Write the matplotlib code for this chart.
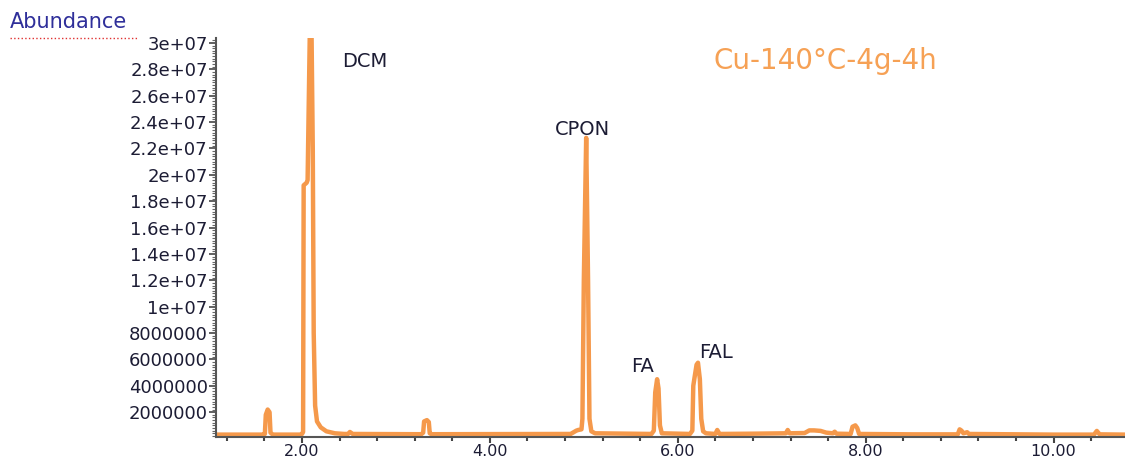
import matplotlib.pyplot as plt
from matplotlib.ticker import FixedLocator, MultipleLocator

# Retention time (min) and abundance (x1e6) of the total ion chromatogram
rt_min = [
    1.08, 1.58, 1.605, 1.615, 1.635, 1.655, 1.665, 1.69,
    1.98, 2.0, 2.012, 2.018, 2.05, 2.06, 2.085, 2.1, 2.115, 2.125, 2.14, 2.16,
    2.2, 2.26, 2.35, 2.45, 2.49, 2.51, 2.54,
    3.27, 3.29, 3.3, 3.33, 3.35, 3.36, 3.38,
    4.86, 4.92, 4.94, 4.975, 4.985, 5.0, 5.025, 5.045, 5.06, 5.08, 5.12,
    5.72, 5.745, 5.76, 5.78, 5.795, 5.81, 5.83,
    6.13, 6.155, 6.165, 6.18, 6.2, 6.215, 6.235, 6.25, 6.27, 6.3,
    6.4, 6.42, 6.445, 6.8,
    7.15, 7.17, 7.19, 7.35, 7.4, 7.45, 7.52, 7.58,
    7.65, 7.67, 7.69, 7.84, 7.86, 7.89, 7.91, 7.93,
    8.5, 8.98, 9.0, 9.02, 9.04, 9.08, 9.1,
    10.0, 10.43, 10.46, 10.49, 10.75,
]
abundance_m = [
    0.3, 0.3, 0.35, 1.8, 2.2, 2.0, 0.45, 0.3,
    0.3, 0.35, 0.5, 19.2, 19.4, 19.6, 31.5, 32.0, 22.0, 8.0, 2.5, 1.3,
    0.85, 0.55, 0.4, 0.35, 0.35, 0.5, 0.35,
    0.33, 0.45, 1.3, 1.4, 1.25, 0.4, 0.33,
    0.35, 0.6, 0.65, 0.7, 1.5, 12.0, 22.8, 12.0, 1.5, 0.55, 0.4,
    0.35, 0.6, 3.5, 4.5, 3.8, 1.0, 0.4,
    0.35, 0.6, 4.0, 4.7, 5.6, 5.75, 4.5, 1.5, 0.55, 0.4,
    0.35, 0.65, 0.35, 0.37,
    0.4, 0.65, 0.4, 0.42, 0.62, 0.62, 0.58, 0.45,
    0.4, 0.52, 0.37, 0.35, 0.9, 1.0, 0.8, 0.35,
    0.32, 0.32, 0.7, 0.6, 0.4, 0.48, 0.35,
    0.3, 0.3, 0.58, 0.32, 0.3,
]

peak_names = ["DCM", "CPON", "FA", "FAL"]
label_rt = [2.67, 4.99, 5.63, 6.41]
label_abund_m = [28.6, 23.4, 5.45, 6.5]

ytick_vals = [2e6, 4e6, 6e6, 8e6, 1e7, 1.2e7, 1.4e7, 1.6e7, 1.8e7, 2e7,
              2.2e7, 2.4e7, 2.6e7, 2.8e7, 3e7]
ytick_labels = ["2000000", "4000000", "6000000", "8000000", "1e+07",
                "1.2e+07", "1.4e+07", "1.6e+07", "1.8e+07", "2e+07",
                "2.2e+07", "2.4e+07", "2.6e+07", "2.8e+07", "3e+07"]
xtick_vals = [2, 4, 6, 8, 10]
xtick_labels = ["2.00", "4.00", "6.00", "8.00", "10.00"]

trace_color = "#f5994b"
text_color = "#1c1c34"

plt.rcParams["font.family"] = ["DejaVu Sans"]

fig = plt.figure(figsize=(11.25, 4.62), dpi=100)
ax = fig.add_axes([0.192, 0.055, 0.808, 0.863])

ax.plot(rt_min, [a * 1e6 for a in abundance_m], color=trace_color,
        linewidth=3.2, solid_joinstyle="round")

ax.set_xlim(1.085, 10.76)
ax.set_ylim(0.15e6, 3.038e7)

ax.yaxis.set_major_locator(FixedLocator(ytick_vals))
ax.set_yticklabels(ytick_labels)
ax.yaxis.set_minor_locator(MultipleLocator(2e5))
ax.xaxis.set_major_locator(FixedLocator(xtick_vals))
ax.set_xticklabels(xtick_labels)
ax.xaxis.set_minor_locator(MultipleLocator(0.4))

ax.tick_params(axis="y", which="major", length=5, width=1.2, color="#444444",
               labelsize=13, labelcolor=text_color, pad=1)
ax.tick_params(axis="y", which="minor", length=3, width=0.8, color="#666666")
ax.tick_params(axis="x", which="major", length=4, width=1.5, color="#444444",
               labelsize=11.5, labelcolor=text_color, pad=1)
ax.tick_params(axis="x", which="minor", length=3, width=1.5, color="#444444")

for side in ("top", "right"):
    ax.spines[side].set_visible(False)
for side in ("left", "bottom"):
    ax.spines[side].set_color("#555555")
    ax.spines[side].set_linewidth(1.5)

for name, rt, ab in zip(peak_names, label_rt, label_abund_m):
    ax.text(rt, ab * 1e6, name, ha="center", va="center", fontsize=14,
            color=text_color)

fig.text(0.734, 0.868, "Cu-140°C-4g-4h", ha="center", va="center",
         fontsize=20, color="#f6a155")

fig.text(0.009, 0.953, "Abundance", ha="left", va="center", fontsize=15,
         color="#2f2f9a")
fig.add_artist(plt.Line2D([0.009, 0.122], [0.918, 0.918], color="#e03030",
                          linewidth=1, linestyle=":"))

fig.savefig("out.png", dpi=100)
